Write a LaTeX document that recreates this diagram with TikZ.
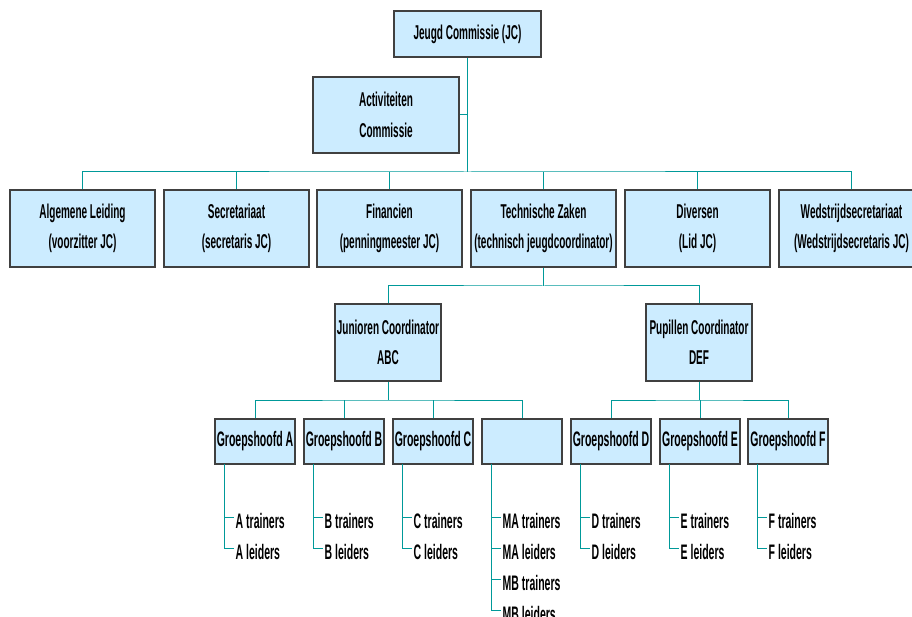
\documentclass[tikz,border=0pt]{standalone}
\usepackage{fontspec}
\setmainfont{Liberation Sans}
\usepackage{graphicx}
\definecolor{boxfill}{RGB}{204,236,255}
\definecolor{boxline}{RGB}{64,64,64}
\definecolor{conncol}{RGB}{0,153,153}
\newcommand\sq[1]{\scalebox{0.5}[1]{\bfseries #1}}
\tikzset{
  box/.style={draw=boxline, line width=1.2pt, fill=boxfill, inner sep=0pt,
    font=\fontsize{20}{30.5}\selectfont, align=center},
  bigbox/.style={box, minimum width=145pt, minimum height=77pt},
  gbox/.style={box, minimum width=80pt, minimum height=45pt, font=\fontsize{21}{30}\selectfont},
  item/.style={anchor=base west, inner sep=0pt, inner xsep=2pt, text height=22pt,
    text depth=0pt, font=\fontsize{21}{30}\selectfont},
  link/.style={draw=conncol, line width=1pt}
}
\begin{document}
\begin{tikzpicture}[x=1pt,y=-1pt]
\useasboundingbox (0,0) rectangle (912,617);
\clip (0,0) rectangle (912,617);
% top
\node[box, minimum width=147pt, minimum height=46pt] (jc) at (467.5,34) {\sq{Jeugd Commissie (JC)}};
\node[box, minimum width=146pt, minimum height=76pt] (act) at (386,115) {\sq{Activiteiten}\\\sq{Commissie}};
% row 1
\node[bigbox] (r1) at (82.5,228.5) {\sq{Algemene Leiding}\\\sq{(voorzitter JC)}};
\node[bigbox] (r2) at (236.5,228.5) {\sq{Secretariaat}\\\sq{(secretaris JC)}};
\node[bigbox] (r3) at (389.5,228.5) {\sq{Financien}\\\sq{(penningmeester JC)}};
\node[bigbox] (r4) at (543.5,228.5) {\sq{Technische Zaken}\\\sq{(technisch jeugdcoordinator)}};
\node[bigbox] (r5) at (697.5,228.5) {\sq{Diversen}\\\sq{(Lid JC)}};
\node[bigbox] (r6) at (851.5,228.5) {\sq{Wedstrijdsecretariaat}\\\sq{(Wedstrijdsecretaris JC)}};
% coordinators
\node[bigbox, minimum width=106pt] (jun) at (388,342.5) {\sq{Junioren Coordinator}\\\sq{ABC}};
\node[bigbox, minimum width=106pt] (pup) at (699,342.5) {\sq{Pupillen Coordinator}\\\sq{DEF}};
% groups
\node[gbox] (gA) at (255,441.5) {\sq{Groepshoofd A}};
\node[gbox] (gB) at (344,441.5) {\sq{Groepshoofd B}};
\node[gbox] (gC) at (433,441.5) {\sq{Groepshoofd C}};
\node[gbox] (gM) at (522,441.5) {};
\node[gbox] (gD) at (611,441.5) {\sq{Groepshoofd D}};
\node[gbox] (gE) at (700,441.5) {\sq{Groepshoofd E}};
\node[gbox] (gF) at (788,441.5) {\sq{Groepshoofd F}};
% bus coordinates
\coordinate (b1) at (467.5,172);
\coordinate (b2) at (543.5,286);
\coordinate (b3) at (388,400);
\coordinate (b4) at (699,400);
% connectors
\draw[link] (jc.south) -- (b1);
\draw[link] (act.east) -- (act.east -| b1);
\draw[link] (r1.north) |- (b1) -| (r6.north);
\foreach \n in {r2,r3,r4,r5} \draw[link] (\n.north) -- (\n.north |- b1);
\draw[link] (r4.south) -- (b2);
\draw[link] (jun.north) |- (b2) -| (pup.north);
\draw[link] (jun.south) -- (b3);
\draw[link] (gA.north) |- (b3) -| (gM.north);
\foreach \n in {gB,gC} \draw[link] (\n.north) -- (\n.north |- b3);
\draw[link] (pup.south) -- (b4);
\draw[link] (gD.north) |- (b4) -| (gF.north);
\draw[link] (gE.north) -- (gE.north |- b4);
% items
\foreach \g/\L/\xv in {A/A/224.5, B/B/313.5, C/C/402.5, D/D/580.5, E/E/669.5, F/F/757.5}{
  \coordinate (v\g) at (\xv,464);
  \node[item] (\g1) at (\xv+9,528) {\sq{\L\ trainers}};
  \node[item] (\g2) at (\xv+9,559) {\sq{\L\ leiders}};
  \draw[link] (v\g) |- (\g2.west);
  \draw[link] (\g1.west) -- (\g1.west -| v\g);
}
\coordinate (vM) at (491.5,464);
\node[item] (M1) at (500.5,528) {\sq{MA trainers}};
\node[item] (M2) at (500.5,559) {\sq{MA leiders}};
\node[item] (M3) at (500.5,590) {\sq{MB trainers}};
\node[item] (M4) at (500.5,621) {\sq{MB leiders}};
\draw[link] (vM) |- (M4.west);
\foreach \k in {M1,M2,M3} \draw[link] (\k.west) -- (\k.west -| vM);
\end{tikzpicture}
\end{document}
